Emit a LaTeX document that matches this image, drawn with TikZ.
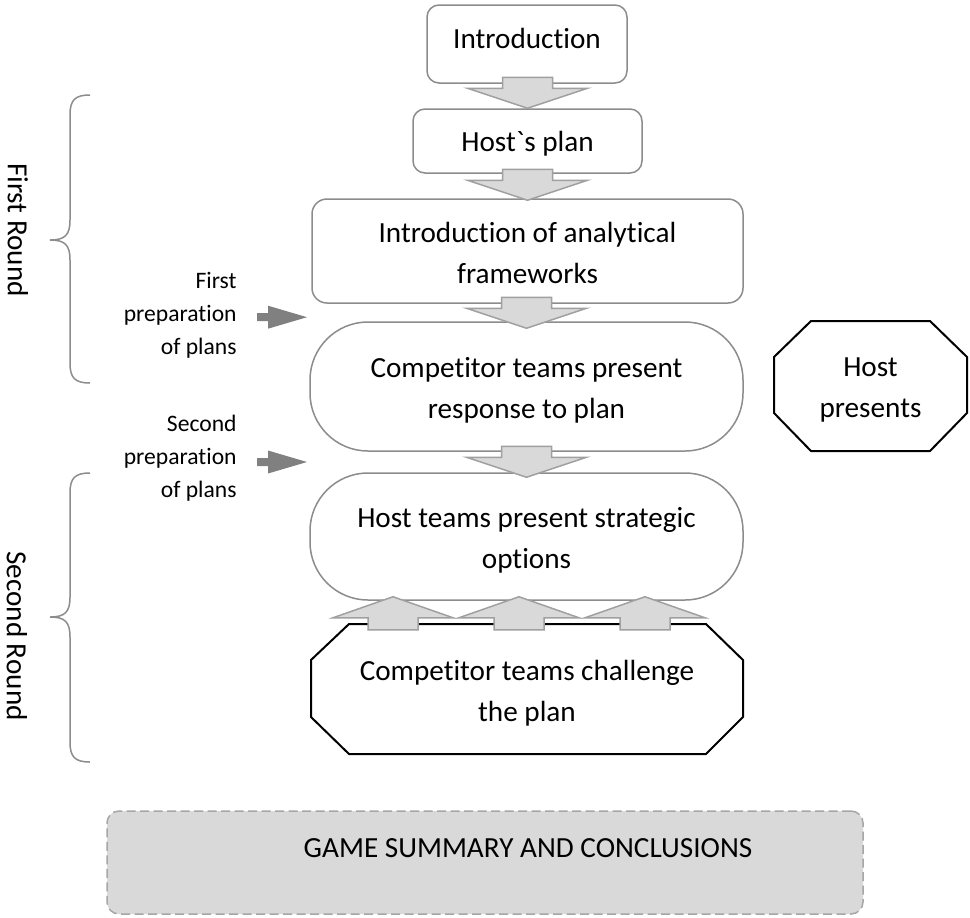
\documentclass[tikz,border=0pt]{standalone}
\usepackage{fontspec}
\setmainfont{Carlito}[Ligatures=CommonOff]
\usetikzlibrary{calc}
\definecolor{boxline}{HTML}{8C8C8C}
\definecolor{arrfill}{HTML}{D9D9D9}
\definecolor{arrline}{HTML}{A0A0A0}
\definecolor{sidearr}{HTML}{808080}
\definecolor{sumline}{HTML}{A6A6A6}
\newcommand\mainfs{\fontsize{14.6pt}{20.5pt}\selectfont}
\newcommand\sidefs{\fontsize{11.8pt}{16.5pt}\selectfont}
\newcommand\tadj[2]{\rule[-#2]{0pt}{\dimexpr#1+#2\relax}}
\newcommand\gravechar{\XeTeXglyph\XeTeXcharglyph"0060 }
\begin{document}
\begin{tikzpicture}[x=0.5pt,y=-0.5pt,
  box/.style={draw=boxline, line width=0.75pt, fill=white, align=center, font=\mainfs, inner sep=0pt},
  octtext/.style={align=center, font=\mainfs, inner sep=0pt},
  octline/.style={draw=black, line width=1pt, fill=white, line join=miter},
  sidetext/.style={align=right, font=\sidefs, inner sep=0pt, anchor=east},
  roundlabel/.style={font=\mainfs, rotate=-90, inner sep=0pt},
  bracestyle/.style={draw=boxline, line width=0.75pt},
  blockarrow/.style={draw=arrline, line width=0.75pt, fill=arrfill, line join=miter},
  sumbox/.style={draw=sumline, line width=0.75pt, fill=arrfill, dash pattern=on 4.5pt off 2.25pt, rounded corners=6pt, font=\mainfs, inner sep=0pt},
  downarrow/.pic={\path[blockarrow] (0,0) -- (-60,-20) -- (-25,-20) -- (-25,-31) -- (25,-31) -- (25,-20) -- (60,-20) -- cycle;},
  uparrow/.pic={\path[blockarrow] (0,0) -- (-60,21) -- (-25,21) -- (-25,33) -- (25,33) -- (25,21) -- (60,21) -- cycle;},
  sidearrow/.pic={\path[fill=sidearr] (0,-4) -- (11,-4) -- (11,-11.5) -- (50,0) -- (11,11.5) -- (11,4) -- (0,4) -- cycle;}
]
\useasboundingbox (0,0) rectangle (970,917);

% main column boxes
\node[box, rounded corners=6pt, minimum width=100pt, minimum height=39pt] (intro) at (527,44) {\tadj{10pt}{6pt}Introduction};
\node[box, rounded corners=6pt, minimum width=114.5pt, minimum height=32pt] (hostplan) at (527.5,141) {\tadj{12.5pt}{0pt}Host\gravechar s plan};
\node[box, rounded corners=7.5pt, minimum width=215.5pt, minimum height=52pt] (frameworks) at (527.5,251) {\tadj{12pt}{0pt}Introduction of analytical\\frameworks};
\node[box, rounded corners=29pt, minimum width=216.5pt, minimum height=64.5pt] (compet) at (526.5,386.5) {\tadj{14pt}{0pt}Competitor teams present\\response to plan};
\node[box, rounded corners=29pt, minimum width=216.5pt, minimum height=63.5pt] (hostteams) at (526.5,536.5) {\tadj{14pt}{0pt}Host teams present strategic\\options};

% octagons
\path[octline] (349,624) -- (706,624) -- (743,660) -- (743,717) -- (706,754) -- (349,754) -- (311,717) -- (311,660) -- cycle;
\node[octtext] (challenge) at (527,689) {\tadj{14pt}{0pt}Competitor teams challenge\\the plan};
\path[octline] (811,321) -- (930,321) -- (967,357) -- (967,413) -- (930,451) -- (811,451) -- (774,413) -- (774,357) -- cycle;
\node[octtext] (hostp) at (870.5,386) {\tadj{13pt}{0pt}Host\\presents};

% block arrows between boxes
\pic at (hostplan.north) {downarrow};
\pic at ($(frameworks.north)+(0,2)$) {downarrow};
\pic at ($(compet.north)+(0,7)$) {downarrow};
\pic at ($(hostteams.north)+(0,5)$) {downarrow};
\pic at ($(hostteams.south)+(-133.5,-4)$) {uparrow};
\pic at ($(hostteams.south)+(-7.5,-4)$) {uparrow};
\pic at ($(hostteams.south)+(118.5,-4)$) {uparrow};

% side texts and arrows
\node[sidetext] (prep1) at (237,315.7) {First\\preparation\\of plans};
\pic at ($(prep1.east)+(20,1.5)$) {sidearrow};
\node[sidetext] (prep2) at (237,458) {Second\\preparation\\of plans};
\pic at ($(prep2.east)+(20,4)$) {sidearrow};

% braces
\path[bracestyle] (90,95) .. controls (75,95) and (70,100) .. (70,115) -- (70,220) .. controls (70,235) and (65,240) .. (50,240) .. controls (65,240) and (70,245) .. (70,260) -- (70,363) .. controls (70,378) and (75,383) .. (90,383);
\path[bracestyle] (90,473) .. controls (75,473) and (70,478) .. (70,493) -- (70,597) .. controls (70,612) and (65,617) .. (50,617) .. controls (65,617) and (70,622) .. (70,637) -- (70,742) .. controls (70,757) and (75,762) .. (90,762);
\node[roundlabel] (round1) at (18,230) {First Round};
\node[roundlabel] (round2) at (17,636) {Second Round};

% summary
\node[sumbox, minimum width=378pt, minimum height=51.5pt] (summary) at (485,862.5) {\hspace*{43pt}\tadj{9.2pt}{14.7pt}GAME SUMMARY AND CONCLUSIONS};
\end{tikzpicture}
\end{document}
